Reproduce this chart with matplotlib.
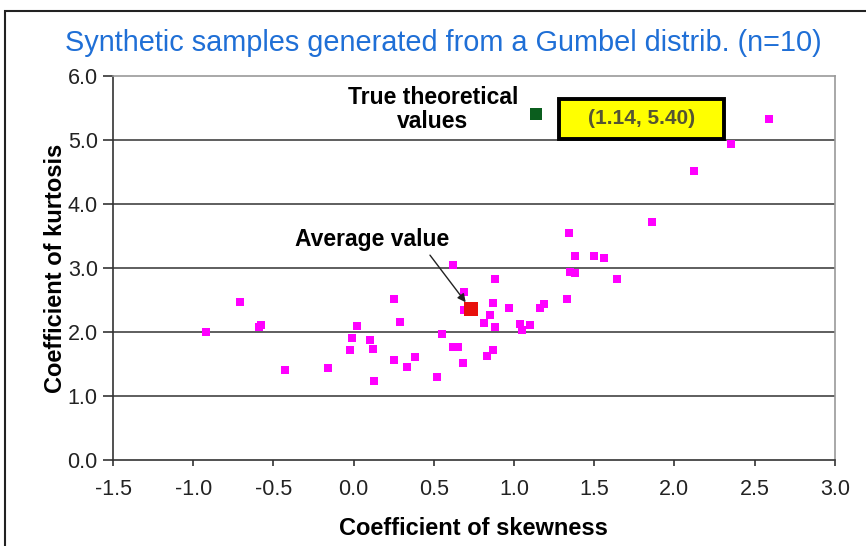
import matplotlib.pyplot as plt
from matplotlib.patches import Rectangle

plt.rcParams['font.family'] = ['Liberation Sans', 'DejaVu Sans']

# synthetic samples (skewness, kurtosis)
skewness = [-0.92, -0.71, -0.59, -0.58, -0.43, -0.16, -0.02, -0.01, 0.02, 0.10,
            0.12, 0.13, 0.25, 0.25, 0.29, 0.33, 0.38, 0.52, 0.55, 0.62,
            0.62, 0.65, 0.68, 0.69, 0.69, 0.81, 0.83, 0.85, 0.87, 0.87,
            0.88, 0.88, 0.97, 1.04, 1.05, 1.10, 1.16, 1.19, 1.33, 1.34,
            1.35, 1.38, 1.38, 1.50, 1.56, 1.64, 1.86, 2.12, 2.35, 2.59]
kurtosis = [2.00, 2.47, 2.08, 2.11, 1.41, 1.44, 1.72, 1.90, 2.09, 1.88,
            1.74, 1.23, 1.56, 2.52, 2.15, 1.45, 1.61, 1.30, 1.97, 3.04,
            1.77, 1.77, 1.52, 2.34, 2.63, 2.14, 1.63, 2.27, 2.46, 1.72,
            2.82, 2.07, 2.38, 2.12, 2.03, 2.11, 2.38, 2.44, 2.52, 3.55,
            2.94, 2.92, 3.19, 3.19, 3.15, 2.82, 3.72, 4.52, 4.94, 5.32]

avg_point = (0.73, 2.36)
true_point = (1.14, 5.40)

x_ticks = [-1.5, -1.0, -0.5, 0.0, 0.5, 1.0, 1.5, 2.0, 2.5, 3.0]
y_ticks = [0.0, 1.0, 2.0, 3.0, 4.0, 5.0, 6.0]

fig = plt.figure(figsize=(8.66, 5.46), dpi=100)
ax = fig.add_axes([0.1305, 0.1575, 0.8335, 0.7035])

# outer frame of the chart
fig.patches.append(Rectangle((5 / 866, -0.02), 1.1, 1 - 11 / 546 + 0.02,
                             transform=fig.transFigure, fill=False,
                             edgecolor='#222222', linewidth=1.5))

for yv in y_ticks[1:-1]:
    ax.axhline(yv, color='#333333', linewidth=1.1, zorder=1)

ax.scatter(skewness, kurtosis, marker='s', s=38, color='#FF00FF', zorder=3,
           linewidths=0)
ax.scatter([avg_point[0]], [avg_point[1]], marker='s', s=110, color='#E8100C',
           zorder=4, linewidths=0)
ax.scatter([true_point[0]], [true_point[1]], marker='s', s=80, color='#0B5E1E',
           zorder=4, linewidths=0)

ax.set_xlim(-1.5, 3.0)
ax.set_ylim(0.0, 6.0)
ax.set_xticks(x_ticks)
ax.set_yticks(y_ticks)
ax.set_xticklabels(['%.1f' % v for v in x_ticks])
ax.set_yticklabels(['%.1f' % v for v in y_ticks])
ax.tick_params(direction='out', width=1.1, labelsize=15.5, colors='#222222')
ax.tick_params(axis='x', length=4, pad=10)
ax.tick_params(axis='y', length=7, pad=4)

for side in ['left', 'bottom']:
    ax.spines[side].set_color('#333333')
    ax.spines[side].set_linewidth(1.2)
for side in ['top', 'right']:
    ax.spines[side].set_color('#999999')
    ax.spines[side].set_linewidth(1.2)

ax.set_xlabel('Coefficient of skewness', fontsize=17, fontweight='bold',
              labelpad=12)
ax.set_ylabel('Coefficient of kurtosis', fontsize=17, fontweight='bold',
              labelpad=0)

fig.text(0.512, 0.922, 'Synthetic samples generated from a Gumbel distrib. (n=10)',
         ha='center', va='center', fontsize=20.8, color='#1F6FD6')

ax.text(0.495, 5.48, 'True theoretical\nvalues', ha='center', va='center',
        fontsize=16.5, fontweight='bold', linespacing=1.05)

# yellow label box for the true values
ax.add_patch(Rectangle((1.28, 5.02), 1.03, 0.62, facecolor='#FFFF00',
                       edgecolor='black', linewidth=2.8, zorder=5))
ax.text(1.795, 5.33, '(%.2f, %.2f)' % true_point, ha='center', va='center',
        fontsize=15, fontweight='bold', color='#555533', zorder=6)

ax.text(0.115, 3.45, 'Average value', ha='center', va='center',
        fontsize=16.5, fontweight='bold')
ax.annotate('', xy=avg_point, xytext=(0.476, 3.20),
            arrowprops=dict(arrowstyle='-|>', color='#222222', lw=1.0,
                            shrinkA=0, shrinkB=6, mutation_scale=12))

fig.savefig('out.png', dpi=100)
